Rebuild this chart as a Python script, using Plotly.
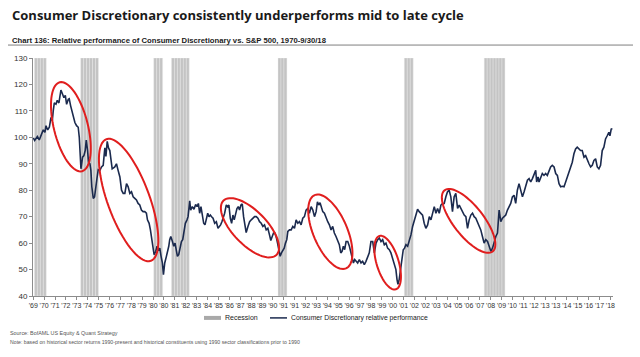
import math
import plotly.graph_objects as go

# ---------------- data ----------------
years = [
    1969.83, 1969.94, 1970.17, 1970.33, 1970.53, 1970.67, 1970.81, 1970.90, 1971.04, 1971.18,
    1971.32, 1971.43, 1971.51, 1971.60, 1971.74, 1971.85, 1971.99, 1972.16, 1972.30, 1972.41,
    1972.53, 1972.64, 1972.78, 1972.86, 1972.98, 1973.09, 1973.20, 1973.34, 1973.48, 1973.62,
    1973.71, 1973.85, 1973.99, 1974.10, 1974.21, 1974.30, 1974.41, 1974.49, 1974.61, 1974.69,
    1974.77, 1974.89, 1975.00, 1975.11, 1975.22, 1975.31, 1975.45, 1975.59, 1975.73, 1975.87,
    1975.96, 1976.07, 1976.18, 1976.29, 1976.49, 1976.71, 1976.85, 1976.99, 1977.14, 1977.28,
    1977.42, 1977.56, 1977.70, 1977.84, 1977.98, 1978.12, 1978.26, 1978.40, 1978.54, 1978.68,
    1978.82, 1978.96, 1979.10, 1979.24, 1979.38, 1979.47, 1979.61, 1979.72, 1979.83, 1979.95,
    1980.03, 1980.17, 1980.28, 1980.40, 1980.51, 1980.62, 1980.73, 1980.82, 1980.93, 1981.07,
    1981.15, 1981.27, 1981.35, 1981.44, 1981.58, 1981.69, 1981.80, 1981.91, 1982.00, 1982.11,
    1982.22, 1982.34, 1982.45, 1982.53, 1982.67, 1982.81, 1982.90, 1983.04, 1983.12, 1983.26,
    1983.40, 1983.54, 1983.66, 1983.77, 1983.88, 1983.99, 1984.11, 1984.22, 1984.33, 1984.44,
    1984.56, 1984.67, 1984.78, 1984.89, 1985.01, 1985.15, 1985.29, 1985.43, 1985.57, 1985.65,
    1985.76, 1985.90, 1985.99, 1986.13, 1986.24, 1986.35, 1986.47, 1986.58, 1986.69, 1986.80,
    1986.92, 1987.03, 1987.14, 1987.25, 1987.37, 1987.48, 1987.59, 1987.70, 1987.81, 1987.96,
    1988.10, 1988.24, 1988.38, 1988.52, 1988.66, 1988.80, 1988.94, 1989.08, 1989.22, 1989.36,
    1989.50, 1989.64, 1989.78, 1989.89, 1990.01, 1990.12, 1990.23, 1990.34, 1990.46, 1990.57,
    1990.68, 1990.79, 1990.91, 1991.02, 1991.13, 1991.24, 1991.33, 1991.47, 1991.61, 1991.75,
    1991.89, 1992.03, 1992.17, 1992.31, 1992.45, 1992.59, 1992.73, 1992.87, 1993.01, 1993.15,
    1993.30, 1993.44, 1993.58, 1993.72, 1993.83, 1993.94, 1994.05, 1994.17, 1994.28, 1994.42,
    1994.56, 1994.70, 1994.84, 1994.98, 1995.12, 1995.26, 1995.40, 1995.54, 1995.68, 1995.80,
    1995.91, 1996.02, 1996.13, 1996.25, 1996.39, 1996.53, 1996.64, 1996.75, 1996.87, 1996.98,
    1997.09, 1997.23, 1997.37, 1997.51, 1997.65, 1997.79, 1997.93, 1998.07, 1998.21, 1998.35,
    1998.50, 1998.64, 1998.78, 1998.92, 1999.06, 1999.20, 1999.34, 1999.48, 1999.62, 1999.76,
    1999.90, 2000.04, 2000.18, 2000.32, 2000.46, 2000.55, 2000.63, 2000.74, 2000.86, 2000.97,
    2001.08, 2001.19, 2001.31, 2001.45, 2001.59, 2001.73, 2001.87, 2002.01, 2002.15, 2002.29,
    2002.43, 2002.57, 2002.71, 2002.85, 2002.99, 2003.14, 2003.28, 2003.42, 2003.56, 2003.70,
    2003.84, 2003.98, 2004.12, 2004.26, 2004.40, 2004.54, 2004.68, 2004.82, 2004.96, 2005.10,
    2005.24, 2005.38, 2005.52, 2005.67, 2005.81, 2005.95, 2006.09, 2006.23, 2006.37, 2006.51,
    2006.65, 2006.79, 2006.93, 2007.07, 2007.21, 2007.35, 2007.49, 2007.63, 2007.77, 2007.91,
    2008.05, 2008.20, 2008.34, 2008.48, 2008.62, 2008.76, 2008.90, 2009.04, 2009.18, 2009.32,
    2009.46, 2009.60, 2009.74, 2009.88, 2010.02, 2010.16, 2010.30, 2010.44, 2010.58, 2010.72,
    2010.86, 2011.00, 2011.15, 2011.29, 2011.43, 2011.57, 2011.71, 2011.85, 2011.99, 2012.13,
    2012.27, 2012.35, 2012.47, 2012.55, 2012.69, 2012.83, 2012.97, 2013.11, 2013.25, 2013.39,
    2013.53, 2013.67, 2013.82, 2013.96, 2014.10, 2014.24, 2014.38, 2014.52, 2014.66, 2014.80,
    2014.94, 2015.08, 2015.22, 2015.36, 2015.50, 2015.64, 2015.78, 2015.92, 2016.06, 2016.20,
    2016.35, 2016.49, 2016.63, 2016.77, 2016.91, 2017.05, 2017.19, 2017.33, 2017.47, 2017.61,
    2017.75, 2017.89, 2018.03, 2018.17, 2018.31, 2018.45, 2018.54, 2018.65, 2018.75,
]

rel_perf = [
    99.8, 98.8, 100.3, 99.0, 101.3, 102.8, 101.9, 104.4, 102.8, 103.8,
    107.5, 106.3, 110.0, 113.0, 112.5, 114.0, 113.0, 117.9, 116.3, 115.0,
    115.9, 112.5, 114.4, 114.6, 111.9, 110.0, 108.8, 105.6, 104.4, 103.8,
    100.0, 88.1, 92.5, 93.1, 95.0, 99.0, 95.0, 90.6, 90.0, 87.5,
    81.3, 76.9, 77.5, 82.5, 85.0, 87.8, 87.5, 88.8, 89.4, 96.0,
    92.8, 98.5, 96.0, 95.0, 88.1, 88.8, 90.0, 87.5, 85.0, 80.0,
    78.8, 78.8, 82.5, 81.3, 78.8, 79.4, 77.5, 76.9, 76.3, 75.0,
    74.4, 72.5, 71.9, 71.9, 71.3, 68.8, 67.5, 65.0, 61.3, 57.5,
    55.6, 56.9, 58.8, 57.5, 58.1, 55.0, 52.5, 48.1, 52.5, 55.0,
    56.3, 58.8, 61.3, 62.5, 60.6, 58.8, 60.0, 57.5, 55.0, 55.6,
    58.1, 60.6, 61.3, 63.8, 67.5, 68.8, 70.0, 76.0, 72.5, 73.8,
    72.8, 74.6, 73.8, 75.0, 71.3, 73.8, 70.0, 67.5, 66.9, 68.8,
    71.3, 70.0, 70.6, 70.0, 69.4, 67.5, 68.1, 65.6, 66.3, 66.9,
    68.1, 70.0, 71.3, 74.4, 73.8, 74.4, 69.4, 67.5, 70.6, 68.8,
    71.3, 73.1, 73.8, 72.5, 74.4, 74.8, 70.0, 66.3, 64.0, 66.3,
    68.1, 68.8, 69.4, 70.0, 70.0, 69.4, 68.1, 67.5, 66.3, 66.9,
    65.0, 65.6, 63.1, 61.0, 62.5, 63.8, 63.8, 62.5, 60.0, 57.5,
    55.0, 56.3, 57.5, 58.1, 60.0, 61.3, 64.4, 65.0, 65.0, 66.3,
    65.6, 68.8, 67.5, 68.1, 66.9, 69.4, 70.0, 72.5, 73.1, 71.3,
    73.8, 72.5, 70.0, 71.9, 75.6, 74.4, 75.3, 73.1, 71.9, 71.3,
    69.4, 68.1, 66.9, 65.0, 66.3, 63.8, 62.5, 60.6, 59.4, 56.3,
    56.9, 58.8, 57.5, 60.6, 60.6, 58.8, 56.3, 54.4, 52.5, 53.8,
    53.1, 52.5, 53.8, 52.5, 53.1, 51.9, 53.1, 55.0, 56.3, 60.6,
    60.6, 56.3, 60.0, 61.3, 61.9, 60.6, 61.3, 59.4, 60.0, 58.1,
    57.5, 56.3, 54.4, 52.5, 50.0, 46.3, 44.4, 46.3, 50.0, 55.0,
    57.5, 58.1, 59.4, 58.8, 60.6, 63.1, 66.3, 68.8, 70.6, 72.8,
    71.9, 71.3, 70.6, 67.5, 65.6, 66.9, 70.0, 68.8, 71.3, 73.8,
    71.3, 73.1, 71.3, 74.4, 75.0, 75.0, 77.5, 79.4, 80.0, 77.5,
    71.9, 77.5, 78.8, 73.1, 74.4, 73.1, 71.3, 70.6, 70.0, 65.6,
    68.8, 70.6, 71.3, 70.0, 69.4, 68.1, 66.3, 65.0, 62.5, 60.0,
    61.3, 60.6, 58.8, 56.9, 58.1, 60.6, 62.5, 63.8, 72.5, 68.1,
    69.4, 70.0, 70.6, 72.5, 73.8, 75.0, 77.5, 78.1, 75.0, 80.0,
    82.5, 80.0, 77.5, 79.4, 81.3, 83.8, 84.4, 83.1, 84.4, 86.3,
    87.5, 83.1, 85.0, 83.1, 84.4, 86.3, 85.6, 86.3, 85.6, 87.5,
    88.8, 89.4, 88.8, 86.3, 85.6, 82.5, 81.3, 81.5, 81.3, 83.1,
    85.0, 87.5, 88.8, 90.6, 93.8, 95.6, 96.3, 95.6, 95.0, 95.0,
    92.5, 93.1, 91.3, 90.0, 88.8, 89.4, 91.3, 91.9, 88.8, 88.1,
    89.4, 95.0, 96.3, 99.4, 100.6, 101.9, 100.6, 103.1, 103.3,
]

# NBER recessions (start, end) in decimal years
recession_start = [1969.92, 1973.83, 1980.00, 1981.50, 1990.50, 2001.17, 2007.92]
recession_end = [1970.92, 1975.25, 1980.58, 1982.92, 1991.25, 2001.92, 2009.50]

tick_labels = [
    "'69", "'70", "'71", "'72", "'73", "'74", "'75", "'76", "'77", "'78", "'79", "'80", "'80",
    "'81", "'82", "'83", "'84", "'85", "'86", "'87", "'88", "'89", "'90", "'91", "'91", "'92",
    "'93", "'94", "'95", "'96", "'97", "'98", "'99", "'00", "'01", "'02", "'02", "'03", "'04",
    "'05", "'06", "'07", "'08", "'09", "'10", "'11", "'12", "'13", "'13", "'14", "'15", "'16",
    "'17", "'18",
]
y_ticks = [40, 50, 60, 70, 80, 90, 100, 110, 120, 130]

# red ellipses: center (year, value), semi-axes in px, tilt in degrees from vertical
ellipse_center_year = [1973.0, 1977.88, 1988.13, 1994.92, 1999.76, 2006.60]
ellipse_center_val = [104.0, 76.3, 65.8, 64.3, 52.6, 68.4]
ellipse_a_px = [46, 65, 38, 40, 28, 39]
ellipse_b_px = [17, 21, 17, 17, 11, 15]
ellipse_tilt = [14, 20, 44, 23, 17, 38]

# ---------------- layout geometry ----------------
W, H = 640, 357
PLOT_L, PLOT_R, PLOT_T, PLOT_B = 33, 613, 57.5, 296.5   # page pixel coordinates
ML, MR, MT, MB = PLOT_L, W - PLOT_R, PLOT_T, H - PLOT_B
X0, X1 = 1969.8, 2018.8
Y0, Y1 = 40, 130
plot_w = PLOT_R - PLOT_L
plot_h = PLOT_B - PLOT_T
px_per_year = plot_w / (X1 - X0)
px_per_val = plot_h / (Y1 - Y0)

NAVY = "#1b2a4e"
GRAY_BAR = "#c4c4c4"
RED = "#e01e1e"
FONT = "Liberation Sans, Arial, sans-serif"


def px2paper_x(px):
    return (px - PLOT_L) / plot_w


def px2paper_y(py):
    return (PLOT_B - py) / plot_h


fig = go.Figure()

# recession bars (quarterly stripes)
rx = []
for s, e in zip(recession_start, recession_end):
    q = s
    while q < e - 0.01:
        rx.append(q + 0.125)
        q += 0.25
fig.add_trace(go.Bar(
    x=rx, y=[Y1 - Y0] * len(rx), base=Y0, width=0.25, name="Recession",
    marker=dict(color=GRAY_BAR, line=dict(color="#ececec", width=0.4)),
    showlegend=False, hoverinfo="skip",
))
fig.add_trace(go.Scatter(
    x=years, y=rel_perf, mode="lines",
    name="Consumer Discretionary relative performance",
    line=dict(color=NAVY, width=1.6), showlegend=False,
))

# ellipses
shapes = []
for cx, cy, a, b, th in zip(ellipse_center_year, ellipse_center_val, ellipse_a_px, ellipse_b_px, ellipse_tilt):
    t = math.radians(th)
    pts = []
    for k in range(73):
        ang = 2 * math.pi * k / 72
        u = a * math.cos(ang)
        v = b * math.sin(ang)
        dx = u * math.sin(t) + v * math.cos(t)
        dy = u * math.cos(t) - v * math.sin(t)
        pts.append((cx + dx / px_per_year, cy - dy / px_per_val))
    path = "M " + " L ".join(f"{p[0]:.4f},{p[1]:.4f}" for p in pts) + " Z"
    shapes.append(dict(type="path", path=path, xref="x", yref="y",
                       line=dict(color=RED, width=2), fillcolor="rgba(0,0,0,0)"))

# subtitle underline
shapes.append(dict(type="line", xref="paper", yref="paper",
                   x0=px2paper_x(8), x1=px2paper_x(633), y0=px2paper_y(44.5), y1=px2paper_y(44.5),
                   line=dict(color="#7f7f7f", width=1)))

# legend (drawn below the axis)
LEG_Y = 318.5
shapes.append(dict(type="rect", xref="paper", yref="paper",
                   x0=px2paper_x(204), x1=px2paper_x(221),
                   y0=px2paper_y(LEG_Y + 2), y1=px2paper_y(LEG_Y - 2),
                   line=dict(width=0), fillcolor="#a9a9a9"))
shapes.append(dict(type="line", xref="paper", yref="paper",
                   x0=px2paper_x(270), x1=px2paper_x(287),
                   y0=px2paper_y(LEG_Y), y1=px2paper_y(LEG_Y),
                   line=dict(color=NAVY, width=1.5)))

tick_vals = [1969.82 + i * (2018.58 - 1969.82) / (len(tick_labels) - 1) for i in range(len(tick_labels))]

annotations = [
    dict(text="<b>Consumer Discretionary consistently underperforms mid to late cycle</b>",
         xref="paper", yref="paper", x=px2paper_x(10), y=px2paper_y(14),
         xanchor="left", yanchor="middle", showarrow=False,
         font=dict(family="Open Sans, Liberation Sans, sans-serif", size=13, color="#1a1a1a")),
    dict(text="<b>Chart 136: Relative performance of Consumer Discretionary vs. S&P 500, 1970-9/30/18</b>",
         xref="paper", yref="paper", x=px2paper_x(10), y=px2paper_y(40),
         xanchor="left", yanchor="middle", showarrow=False,
         font=dict(family=FONT, size=7.7, color="#1a1a1a")),
    dict(text="Recession",
         xref="paper", yref="paper", x=px2paper_x(223), y=px2paper_y(LEG_Y),
         xanchor="left", yanchor="middle", showarrow=False,
         font=dict(family=FONT, size=7, color="#222222")),
    dict(text="Consumer Discretionary relative performance",
         xref="paper", yref="paper", x=px2paper_x(289), y=px2paper_y(LEG_Y),
         xanchor="left", yanchor="middle", showarrow=False,
         font=dict(family=FONT, size=6.8, color="#222222")),
    dict(text="Source: BofAML US Equity & Quant Strategy",
         xref="paper", yref="paper", x=px2paper_x(8), y=px2paper_y(333.3),
         xanchor="left", yanchor="middle", showarrow=False,
         font=dict(family=FONT, size=5.4, color="#555555")),
    dict(text="Note: based on historical sector returns 1990-present and historical constituents using 1990 sector classifications prior to 1990",
         xref="paper", yref="paper", x=px2paper_x(8), y=px2paper_y(342.7),
         xanchor="left", yanchor="middle", showarrow=False,
         font=dict(family=FONT, size=5.2, color="#555555")),
]

fig.update_layout(
    width=W, height=H,
    margin=dict(l=ML, r=MR, t=MT, b=MB, pad=0, autoexpand=False),
    paper_bgcolor="white", plot_bgcolor="white",
    bargap=0,
    showlegend=False,
    hovermode=False,
    shapes=shapes,
    annotations=annotations,
    xaxis=dict(range=[X0, X1], tickmode="array", tickvals=tick_vals, ticktext=tick_labels,
               showgrid=False, zeroline=False, showline=True, linecolor="#8c8c8c", linewidth=1,
               ticks="outside", ticklen=3, tickcolor="#8c8c8c", tickangle=0,
               tickfont=dict(family=FONT, size=7, color="#333333")),
    yaxis=dict(range=[Y0, Y1], tickmode="array", tickvals=y_ticks,
               showgrid=False, zeroline=False, showline=True, linecolor="#8c8c8c", linewidth=1,
               ticks="outside", ticklen=3, tickcolor="#8c8c8c",
               tickfont=dict(family=FONT, size=8, color="#333333")),
)

fig.write_html("out.html", config={"displayModeBar": False, "staticPlot": True},
               post_script="document.body.style.margin='0';")
